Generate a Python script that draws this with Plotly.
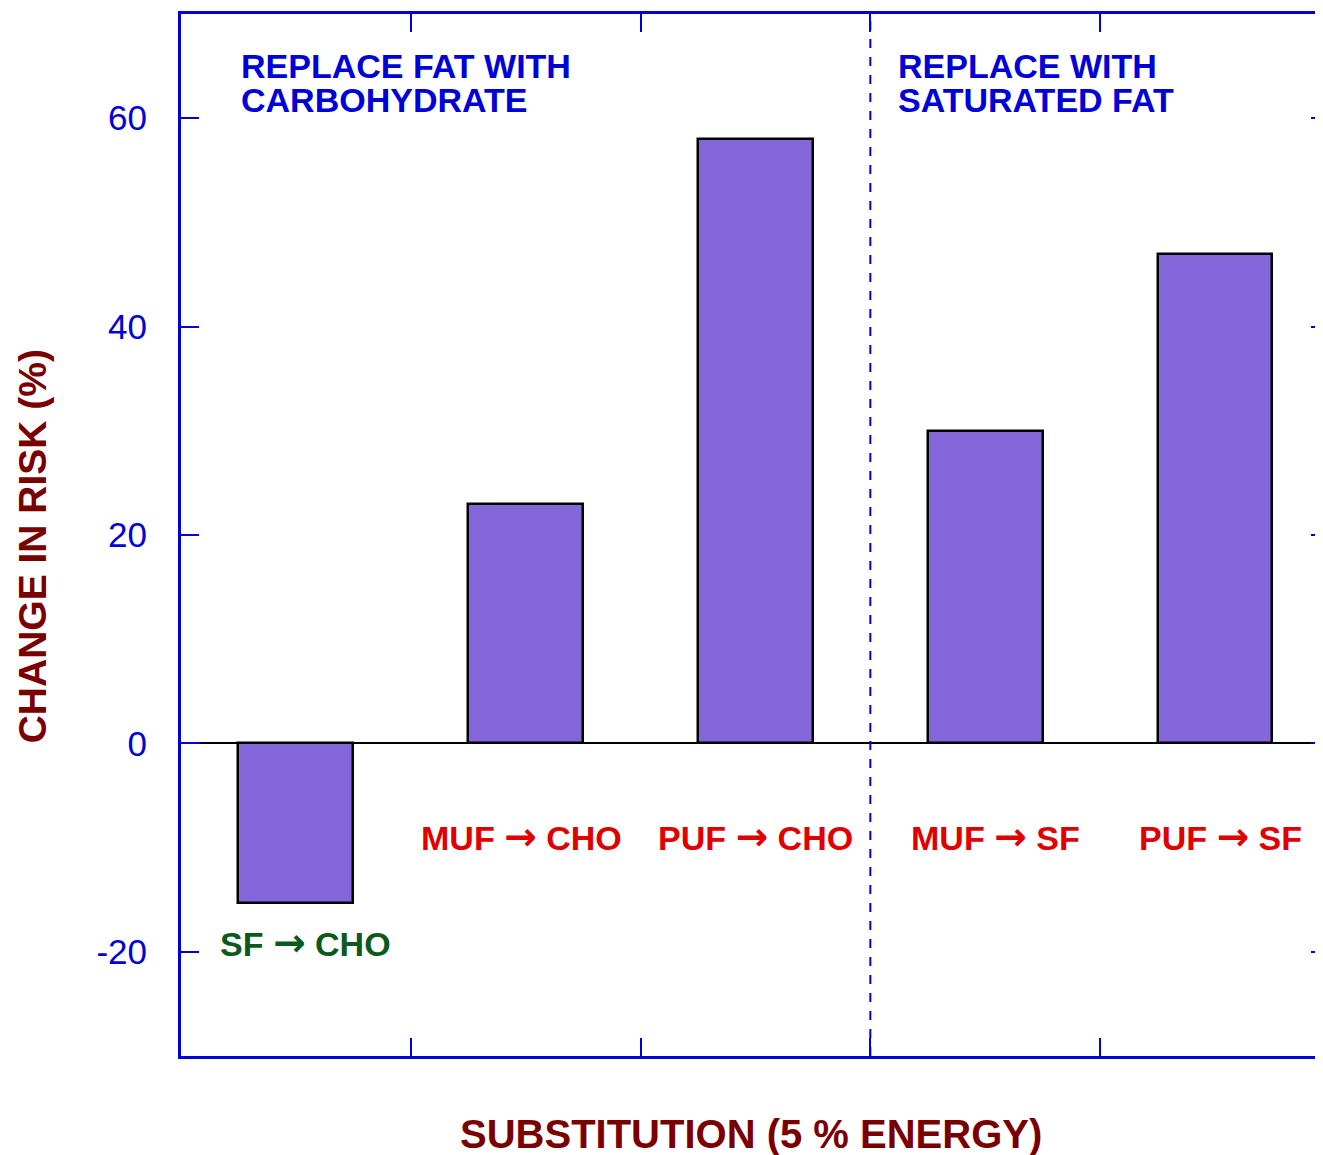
import plotly.graph_objects as go

categories = [0, 1, 2, 3, 4]
values = [-15.3, 23.0, 58.0, 30.0, 47.0]
cat_labels = ["SF", "MUF", "PUF", "MUF", "PUF"]
cat_targets = ["CHO", "CHO", "CHO", "SF", "SF"]
label_y = [-19.1, -8.9, -8.9, -8.9, -8.9]
label_colors = ["#0a5a1e", "#e00000", "#e00000", "#e00000", "#e00000"]
y_ticks = [-20, 0, 20, 40, 60]
y_ticktext = ["-20", "0", "20", "40", "60"]
x_ticks = [0.5, 1.5, 2.5, 3.5]

FONT = "Liberation Sans"
BLUE = "#0000d8"
MAROON = "#7a0000"
ARROW = '<span style="font-family:DejaVu Sans;font-size:39px">\u2192</span>'
label_xshift = [10, -4, 0, 10, 5]

fig = go.Figure()
fig.add_trace(go.Bar(
    x=categories, y=values, width=0.5,
    marker=dict(color="#8366d9", line=dict(color="black", width=2.5)),
    showlegend=False, hoverinfo="skip",
))
fig.add_trace(go.Scatter(x=[0], y=[0], yaxis="y2", mode="markers",
                         marker=dict(opacity=0), showlegend=False, hoverinfo="skip"))

for c, src, dst, ly, col, xs in zip(categories, cat_labels, cat_targets, label_y, label_colors, label_xshift):
    fig.add_annotation(x=c, y=ly, text=f"{src} {ARROW} {dst}", showarrow=False, xref="x", yref="y",
                       font=dict(family=FONT, size=34, color=col, weight="bold"),
                       xanchor="center", yanchor="middle", xshift=xs)

headings = [(-0.2475, 65.0, "REPLACE FAT WITH"), (-0.2475, 61.75, "CARBOHYDRATE"),
            (2.613, 65.0, "REPLACE WITH"), (2.613, 61.75, "SATURATED FAT")]
for hx, hy, ht in headings:
    fig.add_annotation(x=hx, y=hy, text=ht, showarrow=False, xref="x", yref="y",
                       font=dict(family=FONT, size=34, color=BLUE, weight="bold"),
                       xanchor="left", yanchor="middle", height=32)

fig.add_annotation(x=-0.1302, y=0.4894, xref="paper", yref="paper", text="CHANGE IN RISK (%)",
                   showarrow=False, textangle=-90, xanchor="center", yanchor="middle",
                   font=dict(family=FONT, size=39, color=MAROON, weight="bold"))
fig.add_annotation(x=0.499, y=-0.0745, xref="paper", yref="paper",
                   text="SUBSTITUTION (5 % ENERGY)", showarrow=False,
                   font=dict(family=FONT, size=40, color=MAROON, weight="bold"),
                   xanchor="center", yanchor="middle")

fig.add_shape(type="line", x0=2.5, x1=2.5, y0=0, y1=1, xref="x", yref="paper",
              line=dict(color=BLUE, width=2, dash="dash"))

fig.update_layout(
    width=1315, height=1147,
    margin=dict(l=173, r=0, t=6, b=99),
    plot_bgcolor="white", paper_bgcolor="white",
    bargap=0,
    xaxis=dict(range=[-0.5, 4.47], tickvals=x_ticks, showticklabels=False,
               ticks="inside", ticklen=18, tickwidth=2, tickcolor=BLUE,
               showline=True, linecolor=BLUE, linewidth=3, mirror="ticks",
               showgrid=False, zeroline=False),
    yaxis=dict(range=[-30, 70], tickvals=y_ticks, ticktext=y_ticktext, ticks="inside", ticklen=18,
               tickwidth=2, tickcolor=BLUE, showline=True, linecolor=BLUE, linewidth=3,
               showgrid=False, zeroline=True, zerolinecolor="black", zerolinewidth=2,
               tickfont=dict(family=FONT, size=35, color=BLUE),
               ticklabelstandoff=24),
    yaxis2=dict(range=[-30, 70], overlaying="y", side="right", tickvals=y_ticks,
                ticks="inside", ticklen=12, tickwidth=2, tickcolor=BLUE,
                showticklabels=False, showline=False, showgrid=False, zeroline=False),
)

fig.write_html("out.html")
